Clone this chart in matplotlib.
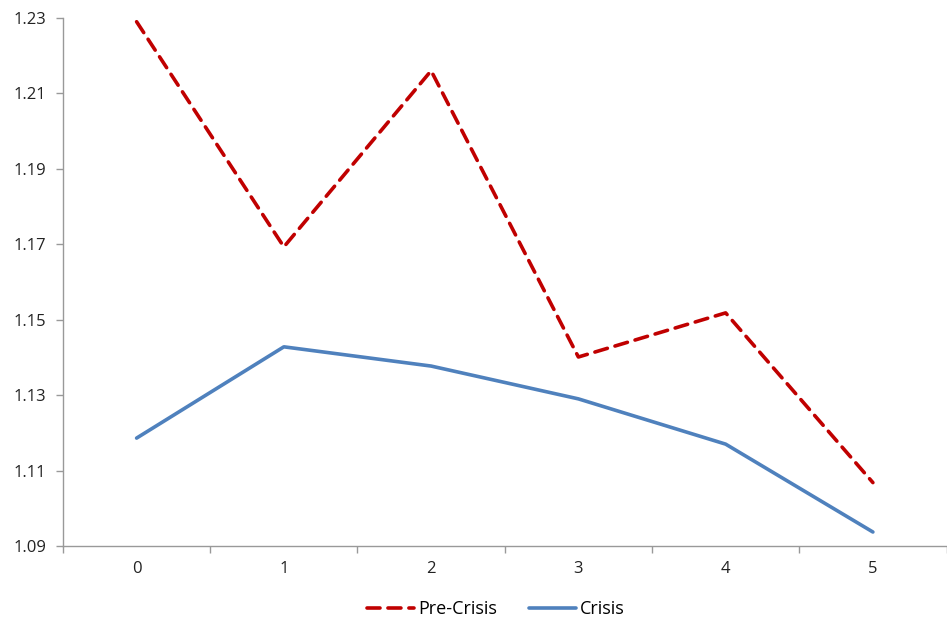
import matplotlib
matplotlib.use("Agg")
import matplotlib.pyplot as plt

categories = ["0", "1", "2", "3", "4", "5"]
pre_crisis = [1.229, 1.1693, 1.2160, 1.1401, 1.1518, 1.1068]
crisis = [1.1186, 1.1428, 1.1377, 1.1290, 1.1170, 1.0937]
y_ticks = [1.09, 1.11, 1.13, 1.15, 1.17, 1.19, 1.21, 1.23]

plt.rcParams['font.family'] = ['Open Sans', 'DejaVu Sans']
fig = plt.figure(figsize=(9.47, 6.19), dpi=100)
ax = fig.add_axes([0.0665, 0.118, 0.933, 0.853])

x = list(range(len(categories)))
ax.plot(x, pre_crisis, color="#C00000", lw=2.6, linestyle=(0, (3.6, 2.2)), label="Pre-Crisis",
        solid_capstyle='round', dash_capstyle='round')
ax.plot(x, crisis, color="#4F81BD", lw=2.6, label="Crisis", solid_capstyle='round')

ax.set_xlim(-0.5, len(categories) - 0.5)
ax.set_ylim(1.09, 1.23)
ax.set_yticks(y_ticks)
ax.set_yticklabels([f"{v:.2f}" for v in y_ticks])
ax.set_xticks(x)
ax.set_xticklabels(categories)
ax.set_xticks([i - 0.5 for i in range(len(categories) + 1)], minor=True)
ax.tick_params(axis='x', which='major', length=0, pad=11, labelsize=12, colors='#222222')
ax.tick_params(axis='x', which='minor', length=5, color='#999999', width=1)
ax.tick_params(axis='y', length=5, color='#999999', width=1, labelsize=12, pad=7, labelcolor='#222222')

for s in ['top', 'right']:
    ax.spines[s].set_visible(False)
for s in ['left', 'bottom']:
    ax.spines[s].set_color('#999999')
    ax.spines[s].set_linewidth(1)

ax.legend(loc='upper center', bbox_to_anchor=(0.49, -0.072), ncol=2, frameon=False,
          fontsize=13, handlelength=2.6, handletextpad=0.2, columnspacing=1.8)

fig.savefig("out.png", dpi=100)
